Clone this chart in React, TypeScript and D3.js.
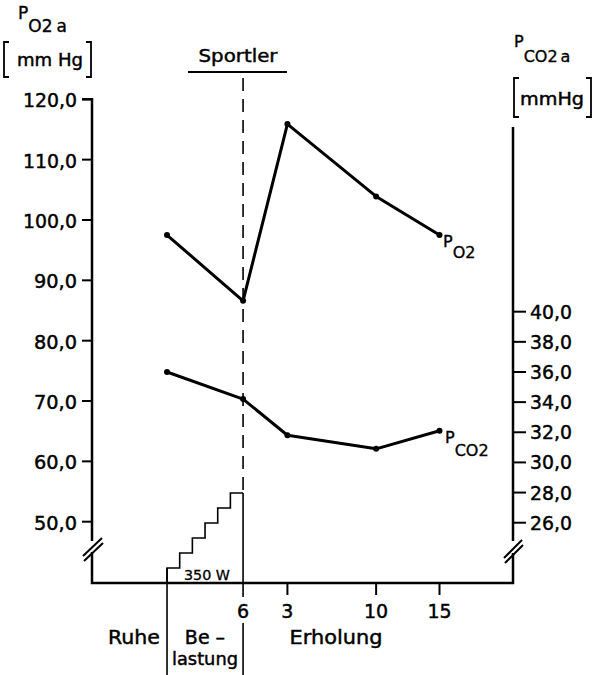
import React from 'react';
import * as d3 from 'd3';

// time positions (minutes on a common axis): rest, end of load (6 min), recovery 3, 10, 15 min
const stageTimes = [0, 6, 9.5, 16.5, 21.5];
const stageTickLabels = ['6', '3', '10', '15'];
const po2Values = [97.5, 86.6, 115.9, 103.9, 97.5];
const pco2Values = [36.0, 34.2, 31.8, 30.9, 32.1];
const po2Ticks = [50, 60, 70, 80, 90, 100, 110, 120];
const pco2Ticks = [26, 28, 30, 32, 34, 36, 38, 40];
const loadMinutes = [0, 1, 2, 3, 4, 5, 6];
const loadWatts = [58.3, 116.7, 175, 233.3, 291.7, 350];

const FONT = 'DejaVu Sans';

export default function App() {
  const W = 593, H = 675;
  const x = d3.scaleLinear().domain([-5.92, 27.3]).range([92, 513]);
  const yL = d3.scaleLinear().domain([50, 120]).range([521.7, 99.3]);
  const yR = d3.scaleLinear().domain([26, 40]).range([522.7, 311.7]);
  const yW = d3.scaleLinear().domain([0, 350]).range([583, 493]);
  const axisY = 583;
  const xL = 92, xR = 513;
  const fmt = (v: number) => d3.format('.1f')(v).replace('.', ',');

  const lineL = d3.line<number>().x((_, i) => x(stageTimes[i])).y((d) => yL(d));
  const lineR = d3.line<number>().x((_, i) => x(stageTimes[i])).y((d) => yR(d));

  // staircase
  let stair = `M${x(loadMinutes[0])},${axisY}`;
  loadWatts.forEach((w, i) => {
    stair += `L${x(loadMinutes[i])},${yW(w)}L${x(loadMinutes[i + 1])},${yW(w)}`;
  });

  const t6 = x(stageTimes[1]);
  const t0 = x(stageTimes[0]);
  const ts = { stroke: '#000', strokeWidth: 0.45 } as any;

  return (
    <svg width={W} height={H} style={{ position: 'absolute', left: 0, top: 0, background: '#fff' }}
      fontFamily={FONT} fill="#000">
      {/* left axis */}
      <path d={`M${xL - 10},${yL(120)}H${xL}V541M${xL},552V${axisY}H${xR}V553M${xR},541V127`}
        fill="none" stroke="#000" strokeWidth={2.5} />
      {/* breaks */}
      <path d="M83,556L102,538M84,561L103,543" stroke="#000" strokeWidth={2} />
      <path d="M504,558L522,540M505,563L523,545" stroke="#000" strokeWidth={2} />
      <g {...ts}>
        {/* left ticks */}
        {po2Ticks.map((t) => {
          const s = fmt(t);
          return (
            <g key={'l' + t}>
              <line x1={xL - 10} x2={xL} y1={yL(t)} y2={yL(t)} stroke="#000" strokeWidth={2} />
              <text x={77} y={yL(t) + 8} textAnchor="end" fontSize={19}
                textLength={s.length === 5 ? 54 : 43} lengthAdjust="spacingAndGlyphs">{s}</text>
            </g>
          );
        })}
        {/* right ticks */}
        {pco2Ticks.map((t) => (
          <g key={'r' + t}>
            <line x1={xR} x2={xR + 13} y1={yR(t)} y2={yR(t)} stroke="#000" strokeWidth={2} />
            <text x={530} y={yR(t) + 7} textAnchor="start" fontSize={19} textLength={42} lengthAdjust="spacingAndGlyphs">{fmt(t)}</text>
          </g>
        ))}
      </g>
      {/* x ticks */}
      {stageTimes.slice(2).map((t) => (
        <line key={'xt' + t} x1={x(t)} x2={x(t)} y1={axisY} y2={595} stroke="#000" strokeWidth={2} />
      ))}
      <g {...ts}>
        {stageTimes.slice(1).map((t, i) => (
          <text key={'xl' + t} x={x(t)} y={618} textAnchor="middle" fontSize={19}>{stageTickLabels[i]}</text>
        ))}
      </g>
      {/* phase separators */}
      <line x1={t0} x2={t0} y1={yW(loadWatts[0])} y2={675} stroke="#000" strokeWidth={1.6} />
      <path d={`M${t6},${yW(350)}V597M${t6},623V675`} stroke="#000" strokeWidth={1.6} fill="none" />
      {/* staircase */}
      <path d={stair} fill="none" stroke="#000" strokeWidth={1.6} />
      <text x={207} y={580} textAnchor="middle" fontSize={14} textLength={46} lengthAdjust="spacingAndGlyphs" {...ts} strokeWidth={0.3}>350 W</text>
      {/* dashed line and Sportler */}
      <line x1={t6} x2={t6} y1={78} y2={yW(350)} stroke="#000" strokeWidth={1.6} strokeDasharray="13,8" />
      <line x1={188} x2={287} y1={72} y2={72} stroke="#000" strokeWidth={1.8} />
      <text x={238} y={62} textAnchor="middle" fontSize={18} textLength={79} lengthAdjust="spacingAndGlyphs" {...ts}>Sportler</text>
      {/* data lines */}
      <path d={lineL(po2Values) || ''} fill="none" stroke="#000" strokeWidth={3} strokeLinejoin="round" />
      <path d={lineR(pco2Values) || ''} fill="none" stroke="#000" strokeWidth={3} strokeLinejoin="round" />
      {po2Values.map((v, i) => (
        <circle key={'p' + i} cx={x(stageTimes[i])} cy={yL(v)} r={3} />
      ))}
      {pco2Values.map((v, i) => (
        <circle key={'c' + i} cx={x(stageTimes[i])} cy={yR(v)} r={3} />
      ))}
      <g {...ts} strokeWidth={0.35}>
        {/* series labels */}
        <text x={443} y={247} fontSize={16}>P<tspan dy={11} fontSize={16}>O2</tspan></text>
        <text x={445} y={443} fontSize={16}>P<tspan dy={13} fontSize={16}>CO2</tspan></text>
        {/* left title */}
        <text x={18} y={19} fontSize={17}>P<tspan dy={13} fontSize={17}>O2</tspan><tspan dx={4} fontSize={17}>a</tspan></text>
        {/* right title */}
        <text x={514} y={47} fontSize={16}>P<tspan dy={15} fontSize={16}>CO2</tspan><tspan dx={3} fontSize={16}>a</tspan></text>
      </g>
      <path d="M9,42H4V77H9M86,42H91V77H86" fill="none" stroke="#000" strokeWidth={1.8} />
      <text x={17} y={66} fontSize={17} textLength={66} lengthAdjust="spacingAndGlyphs" {...ts}>mm Hg</text>
      <path d="M519,78H514V117H519M586,78H591V117H586" fill="none" stroke="#000" strokeWidth={1.8} />
      <text x={520} y={105} fontSize={17} textLength={64} lengthAdjust="spacingAndGlyphs" {...ts}>mmHg</text>
      {/* phase labels */}
      <g {...ts}>
        <text x={134} y={644} textAnchor="middle" fontSize={19} textLength={52} lengthAdjust="spacingAndGlyphs">Ruhe</text>
        <text x={205} y={644} textAnchor="middle" fontSize={19}>Be –</text>
        <text x={205} y={665} textAnchor="middle" fontSize={18} textLength={66} lengthAdjust="spacingAndGlyphs">lastung</text>
        <text x={336} y={644} textAnchor="middle" fontSize={19} textLength={93} lengthAdjust="spacingAndGlyphs">Erholung</text>
      </g>
    </svg>
  );
}
